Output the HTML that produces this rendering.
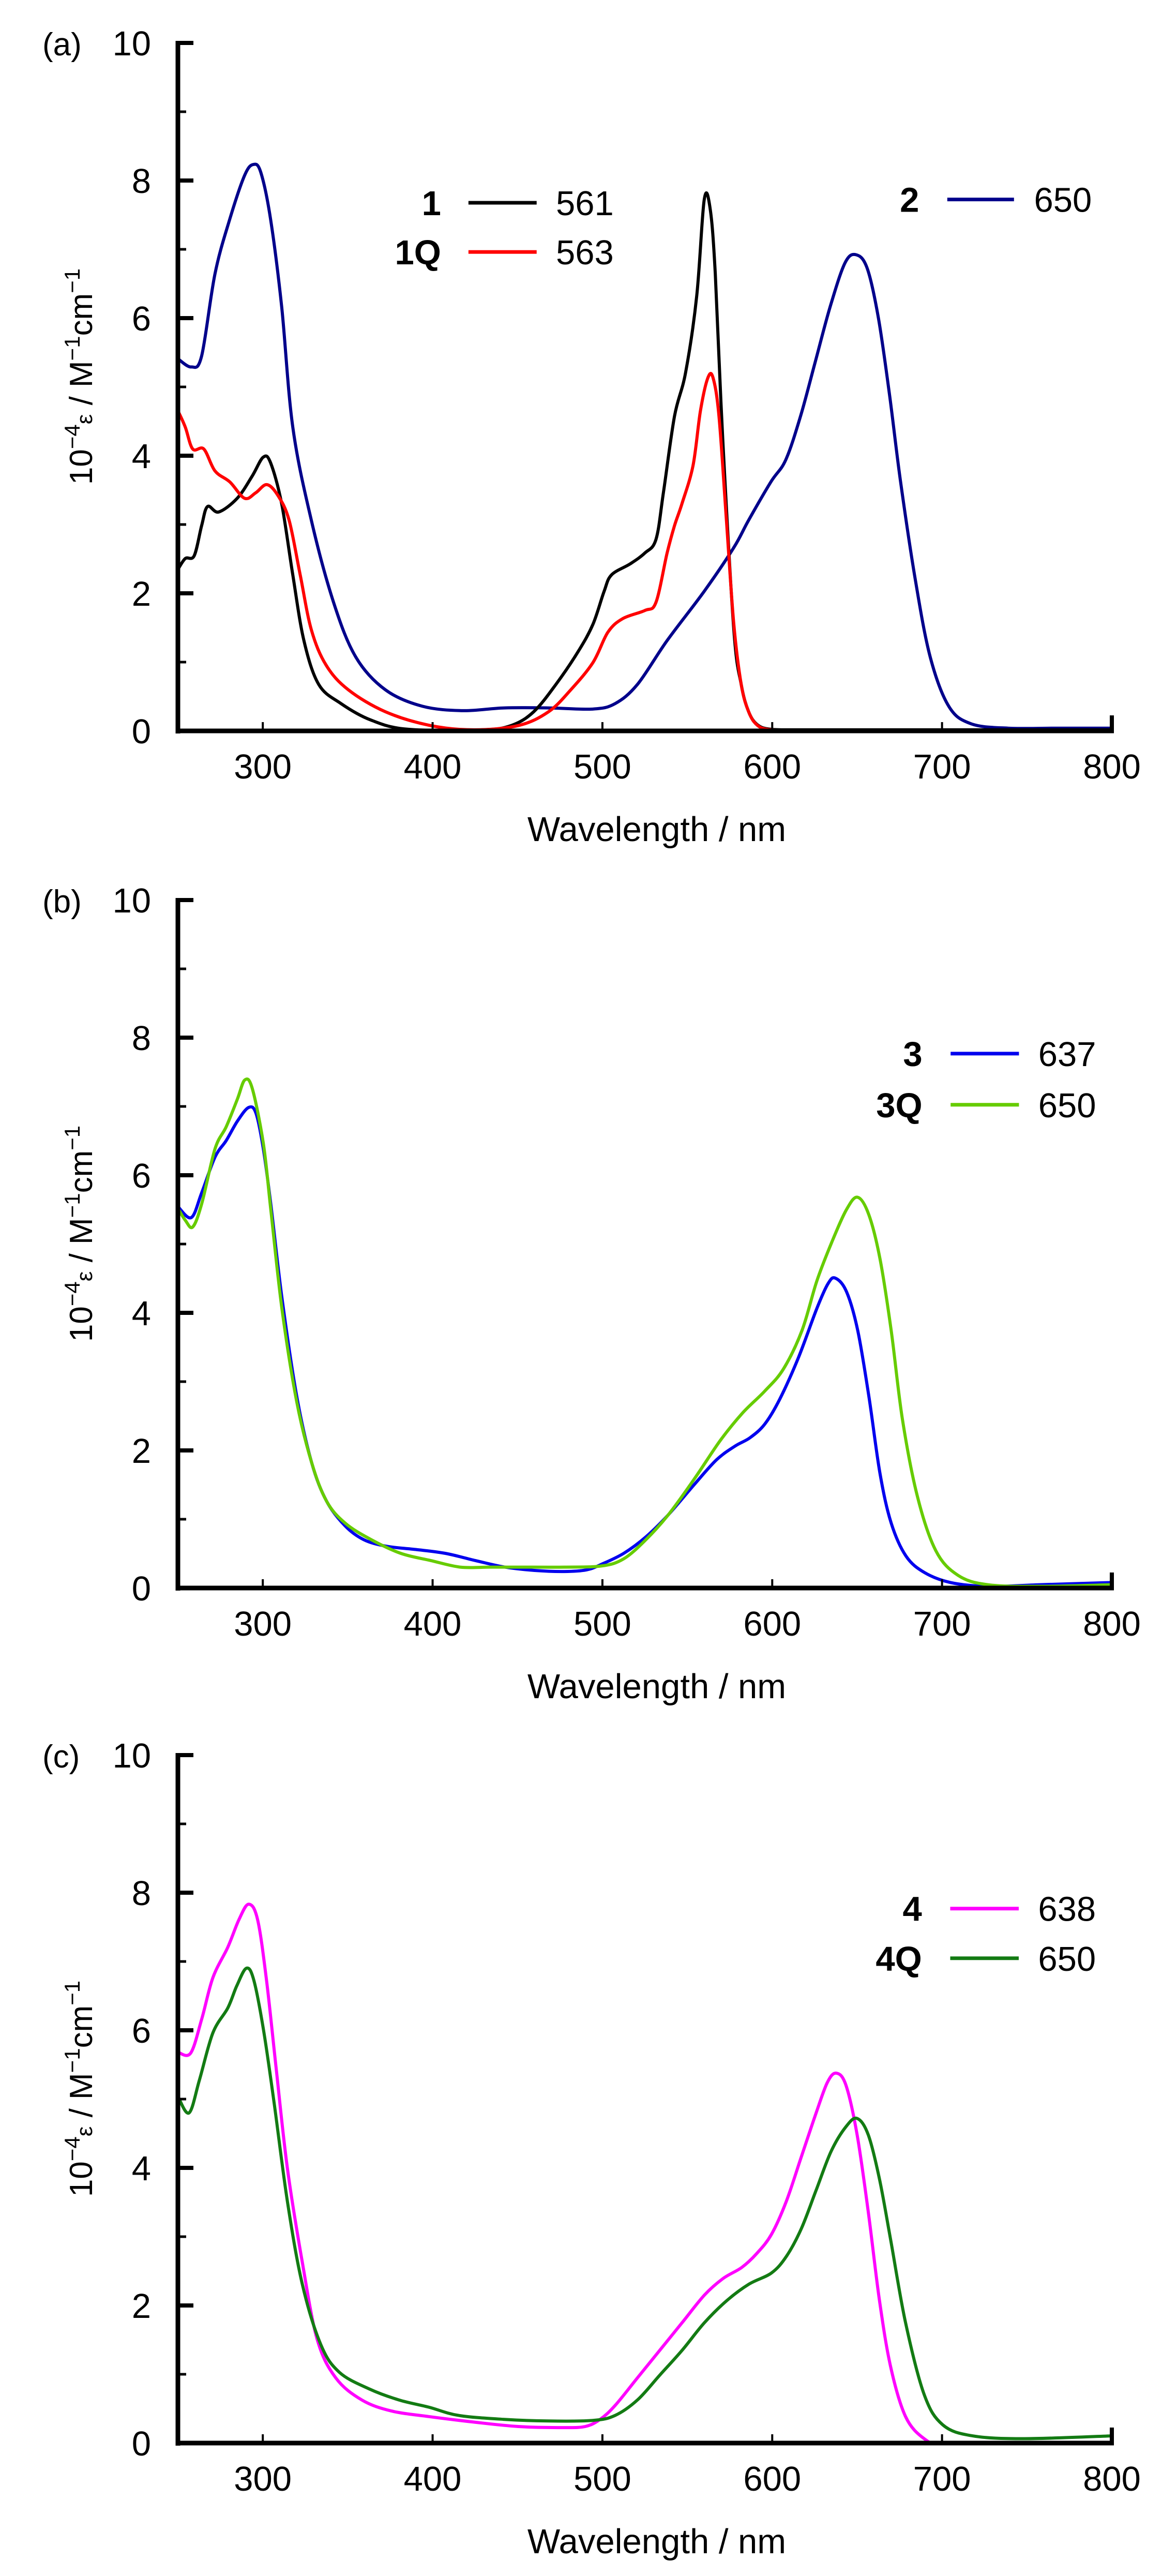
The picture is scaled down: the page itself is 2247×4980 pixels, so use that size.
<!DOCTYPE html>
<html><head><meta charset="utf-8">
<style>
html,body{margin:0;padding:0;background:#fff;}
svg{display:block;}
text{font-family:"Liberation Sans",Arial,sans-serif;fill:#000;}
</style></head>
<body>
<svg id="s" width="2247" height="4980" viewBox="0 0 2247 4980" xmlns="http://www.w3.org/2000/svg"></svg>
<script>
const NS="http://www.w3.org/2000/svg";
const svg=document.getElementById('s');
function el(t,a,txt,parent){const e=document.createElementNS(NS,t);for(const k in a)e.setAttribute(k,a[k]);if(txt!==undefined&&txt!==null)e.textContent=txt;(parent||svg).appendChild(e);return e;}
const X0=344,X1=2150;
const panels=[
 {lab:"(a)",Y10:83,Y0:1413,dx0:240,dx1:1500,dy10:78,dy0:1335,
  series:[
   {c:"#00008B",p:[[240,655],[258,670],[272,650],[290,500],[310,400],[330,320],[342,300],[352,315],[365,400],[380,560],[395,780],[420,950],[450,1100],[480,1200],[520,1260],[570,1290],[625,1298],[680,1293],[740,1293],[800,1295],[830,1285],[860,1250],[900,1170],[950,1080],[990,1000],[1010,950],[1040,880],[1060,840],[1080,760],[1100,660],[1120,560],[1140,480],[1155,465],[1170,490],[1185,580],[1200,720],[1215,880],[1235,1060],[1255,1200],[1280,1290],[1310,1322],[1360,1330],[1430,1330],[1500,1330]]},
   {c:"#000000",p:[[240,1040],[250,1020],[262,1015],[272,960],[280,925],[295,935],[320,910],[340,870],[355,835],[365,845],[380,920],[395,1050],[410,1170],[430,1250],[460,1285],[500,1315],[550,1332],[650,1333],[690,1325],[720,1300],[750,1250],[780,1190],[800,1140],[815,1080],[825,1050],[850,1030],[870,1010],[885,985],[895,900],[910,760],[925,680],[940,540],[950,365],[958,380],[965,500],[975,800],[990,1150],[1000,1250],[1010,1300],[1022,1324],[1040,1332],[1080,1333],[1200,1333],[1500,1333]]},
   {c:"#FF0000",p:[[240,750],[250,780],[260,820],[275,820],[290,860],[310,880],[330,910],[345,900],[360,885],[375,905],[390,950],[405,1050],[420,1150],[440,1215],[470,1260],[520,1300],[580,1325],[640,1333],[700,1325],[740,1300],[770,1260],[800,1210],[820,1155],[840,1130],[870,1115],[885,1100],[900,1010],[910,960],[920,920],[935,850],[945,750],[955,690],[962,690],[970,760],[980,950],[990,1140],[1000,1250],[1010,1300],[1022,1325],[1040,1333],[1080,1334],[1200,1334],[1500,1334]]}
  ],
  legend:[
   {name:"1",num:"561",c:"#000000",nx:595,lx0:632,lx1:724,tx:750,y:370},
   {name:"1Q",num:"563",c:"#FF0000",nx:595,lx0:632,lx1:724,tx:750,y:460},
   {name:"2",num:"650",c:"#00008B",nx:1240,lx0:1278,lx1:1368,tx:1395,y:364}
  ]},
 {lab:"(b)",Y10:1740,Y0:3070,dx0:240,dx1:1497,dy10:78,dy0:1328,
  series:[
   {c:"#0000EE",p:[[240,635],[258,655],[272,610],[290,545],[305,515],[320,480],[335,455],[345,465],[355,530],[365,630],[380,800],[400,980],[420,1100],[440,1170],[465,1215],[490,1240],[520,1252],[560,1258],[600,1265],[640,1278],[680,1290],[720,1296],[760,1298],[790,1295],[810,1285],[840,1265],[870,1235],[900,1195],[935,1140],[965,1095],[990,1070],[1010,1055],[1030,1030],[1050,985],[1075,910],[1100,820],[1115,775],[1125,765],[1140,790],[1155,860],[1170,980],[1185,1120],[1200,1210],[1220,1270],[1245,1300],[1280,1318],[1330,1325],[1400,1322],[1497,1318]]},
   {c:"#66CC00",p:[[240,638],[250,660],[260,672],[272,630],[290,530],[305,490],[320,440],[330,405],[340,420],[355,520],[365,640],[380,820],[400,990],[420,1100],[440,1170],[465,1210],[500,1240],[540,1265],[580,1278],[620,1290],[660,1290],[700,1290],[760,1290],[810,1288],[840,1275],[870,1240],[900,1195],[935,1130],[970,1060],[1000,1010],[1030,970],[1055,930],[1080,860],[1100,770],[1120,700],[1140,640],[1155,618],[1170,650],[1185,730],[1200,860],[1215,1020],[1235,1160],[1260,1260],[1290,1305],[1330,1322],[1400,1325],[1497,1322]]}
  ],
  legend:[
   {name:"3",num:"637",c:"#0000EE",nx:1242,lx0:1280,lx1:1372,tx:1398,y:357},
   {name:"3Q",num:"650",c:"#66CC00",nx:1242,lx0:1280,lx1:1372,tx:1398,y:450}
  ]},
 {lab:"(c)",Y10:3393,Y0:4723,dx0:243,dx1:1497,dy10:72,dy0:1318,
  series:[
   {c:"#FF00FF",p:[[243,610],[260,612],[275,550],[290,475],[310,420],[325,370],[338,342],[350,370],[362,480],[375,640],[390,820],[410,990],[430,1130],[455,1200],[490,1240],[530,1260],[580,1270],[640,1280],[700,1288],[760,1290],[790,1288],[810,1275],[830,1250],[860,1200],[890,1150],[920,1100],[950,1050],[975,1020],[1000,1000],[1020,975],[1040,940],[1060,880],[1080,800],[1100,720],[1115,665],[1127,648],[1140,670],[1155,760],[1170,900],[1185,1060],[1200,1180],[1220,1270],[1245,1310],[1270,1320],[1350,1319],[1497,1318]]},
   {c:"#137B13",p:[[243,690],[258,720],[272,660],[290,575],[310,530],[322,490],[335,458],[345,480],[358,570],[372,700],[390,880],[410,1030],[435,1140],[460,1190],[500,1220],[540,1240],[580,1253],[620,1268],[680,1275],[740,1278],[800,1277],[830,1268],[860,1240],[890,1195],[920,1150],[950,1100],[980,1060],[1010,1030],[1040,1010],[1060,980],[1080,930],[1100,860],[1120,790],[1140,745],[1155,730],[1170,760],[1185,840],[1200,950],[1220,1100],[1245,1230],[1270,1285],[1310,1305],[1380,1310],[1497,1305]]}
  ],
  legend:[
   {name:"4",num:"638",c:"#FF00FF",nx:1242,lx0:1280,lx1:1372,tx:1398,y:350},
   {name:"4Q",num:"650",c:"#137B13",nx:1242,lx0:1280,lx1:1372,tx:1398,y:440}
  ]}
];
function catmull(pts){
  let d="M"+pts[0][0].toFixed(1)+","+pts[0][1].toFixed(1);
  for(let i=0;i<pts.length-1;i++){
    const p0=pts[i-1]||pts[i],p1=pts[i],p2=pts[i+1],p3=pts[i+2]||p2;
    const c1=[p1[0]+(p2[0]-p0[0])/6,p1[1]+(p2[1]-p0[1])/6];
    const c2=[p2[0]-(p3[0]-p1[0])/6,p2[1]-(p3[1]-p1[1])/6];
    d+=" C"+c1[0].toFixed(1)+","+c1[1].toFixed(1)+" "+c2[0].toFixed(1)+","+c2[1].toFixed(1)+" "+p2[0].toFixed(1)+","+p2[1].toFixed(1);
  }
  return d;
}
const defs=el('defs',{});
panels.forEach((P,idx)=>{
  const mx=x=>X0+(x-P.dx0)*(X1-X0)/(P.dx1-P.dx0);
  const my=y=>P.Y10+(y-P.dy10)*(P.Y0-P.Y10)/(P.dy0-P.dy10);
  const u=(P.Y0-P.Y10)/10;
  const cp=el('clipPath',{id:'cp'+idx},null,defs);
  el('rect',{x:X0,y:P.Y10-40,width:X1-X0+4,height:P.Y0-P.Y10+40},null,cp);
  const g=el('g',{'clip-path':'url(#cp'+idx+')'});
  for(const s of P.series){
    const pts=s.p.map(q=>[mx(q[0]),my(q[1])]);
    el('path',{d:catmull(pts),fill:'none',stroke:s.c,'stroke-width':6,'stroke-linejoin':'round','stroke-linecap':'round'},null,g);
  }
  el('line',{x1:X0,y1:P.Y10-4,x2:X0,y2:P.Y0+5,stroke:'#000','stroke-width':9});
  el('line',{x1:X0-4,y1:P.Y0,x2:X1+4,y2:P.Y0,stroke:'#000','stroke-width':9});
  for(let v=0;v<=10;v++){
    const y=P.Y0-v*u;
    const len=(v%2==0)?30:16;
    if(v>0) el('line',{x1:X0,y1:y,x2:X0+len,y2:y,stroke:'#000','stroke-width':(v%2==0)?8:5});
    if(v%2==0) el('text',{x:292,y:y+24,'font-size':67,'text-anchor':'end'},String(v));
  }
  for(let w=300;w<=800;w+=100){
    const x=X0+(w-250)*(X1-X0)/550;
    el('line',{x1:x,y1:P.Y0,x2:x,y2:P.Y0-(w==800?30:17),stroke:'#000','stroke-width':(w==800?8:4)});
    el('text',{x:x,y:P.Y0+92,'font-size':67,'text-anchor':'middle'},String(w));
  }
  el('text',{x:1270,y:P.Y0+213,'font-size':67,'text-anchor':'middle'},'Wavelength / nm');
  el('text',{x:82,y:P.Y10+24,'font-size':62},P.lab);
  const cy=(P.Y0+P.Y10)/2;
  const t=el('text',{x:0,y:0,'font-size':62,'text-anchor':'middle',transform:'translate(178,'+(cy-20)+') rotate(-90)'});
  t.innerHTML='10<tspan font-size="42" dy="-24">−4</tspan><tspan font-size="44" dy="24">ε</tspan> / M<tspan font-size="42" dy="-24">−1</tspan><tspan dy="24">cm</tspan><tspan font-size="42" dy="-24">−1</tspan>';
  for(const L of P.legend){
    const y=my(L.y);
    el('text',{x:mx(L.nx),y:y+24,'font-size':67,'font-weight':'bold','text-anchor':'end'},L.name);
    el('line',{x1:mx(L.lx0),y1:y,x2:mx(L.lx1),y2:y,stroke:L.c,'stroke-width':7});
    el('text',{x:mx(L.tx),y:y+24,'font-size':67},L.num);
  }
});
</script>
</body></html>
